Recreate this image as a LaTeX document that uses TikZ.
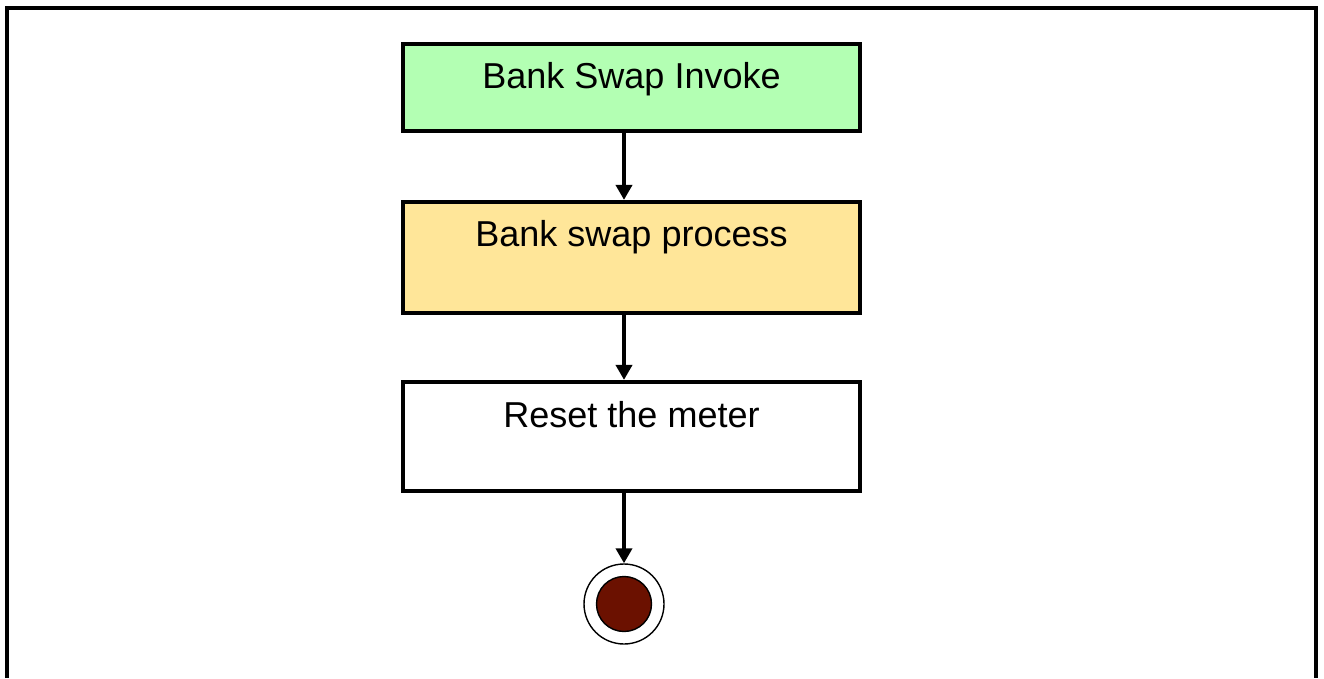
\documentclass[tikz,border=0pt]{standalone}
\usepackage{fontspec}
\setmainfont{Liberation Sans}
\usetikzlibrary{arrows.meta}
\definecolor{invokegreen}{RGB}{179,255,179}
\definecolor{processyellow}{RGB}{255,230,153}
\definecolor{enddot}{RGB}{107,17,0}
\tikzset{
  actbox/.style={draw=black, line width=2.4pt, minimum width=9.14cm, inner sep=0pt, text height=0.9cm, font=\fontsize{20.5}{24}\selectfont},
  flow/.style={line width=2.2pt, -{Triangle[width=0.32cm,length=0.3cm]}}
}
\begin{document}
\begin{tikzpicture}
         \useasboundingbox (0,0) rectangle (26.48,13.56);
         \draw[line width=2.4pt] (0.14,0) -- (0.14,13.4) -- (26.32,13.4) -- (26.32,0);
         \node[actbox, fill=invokegreen, text depth=0.84cm] (invoke) at (12.63,11.81) {Bank Swap Invoke};
         \node[actbox, fill=processyellow, text depth=1.32cm] (process) at (12.63,8.41) {Bank swap process};
         \node[actbox, fill=white, text depth=1.28cm] (reset) at (12.63,4.83) {Reset the meter};
         \node[circle, draw, line width=0.8pt, minimum size=1.6cm, inner sep=0pt] (final) at (12.48,1.48) {};
         \node[circle, draw, line width=0.8pt, fill=enddot, minimum size=1.1cm, inner sep=0pt] (finaldot) at (final.center) {};
         \draw[flow] (invoke.south -| final) -- (process.north -| final);
         \draw[flow] (process.south -| final) -- (reset.north -| final);
         \draw[flow] (reset.south -| final) -- (final.north);
      \end{tikzpicture}
\end{document}
